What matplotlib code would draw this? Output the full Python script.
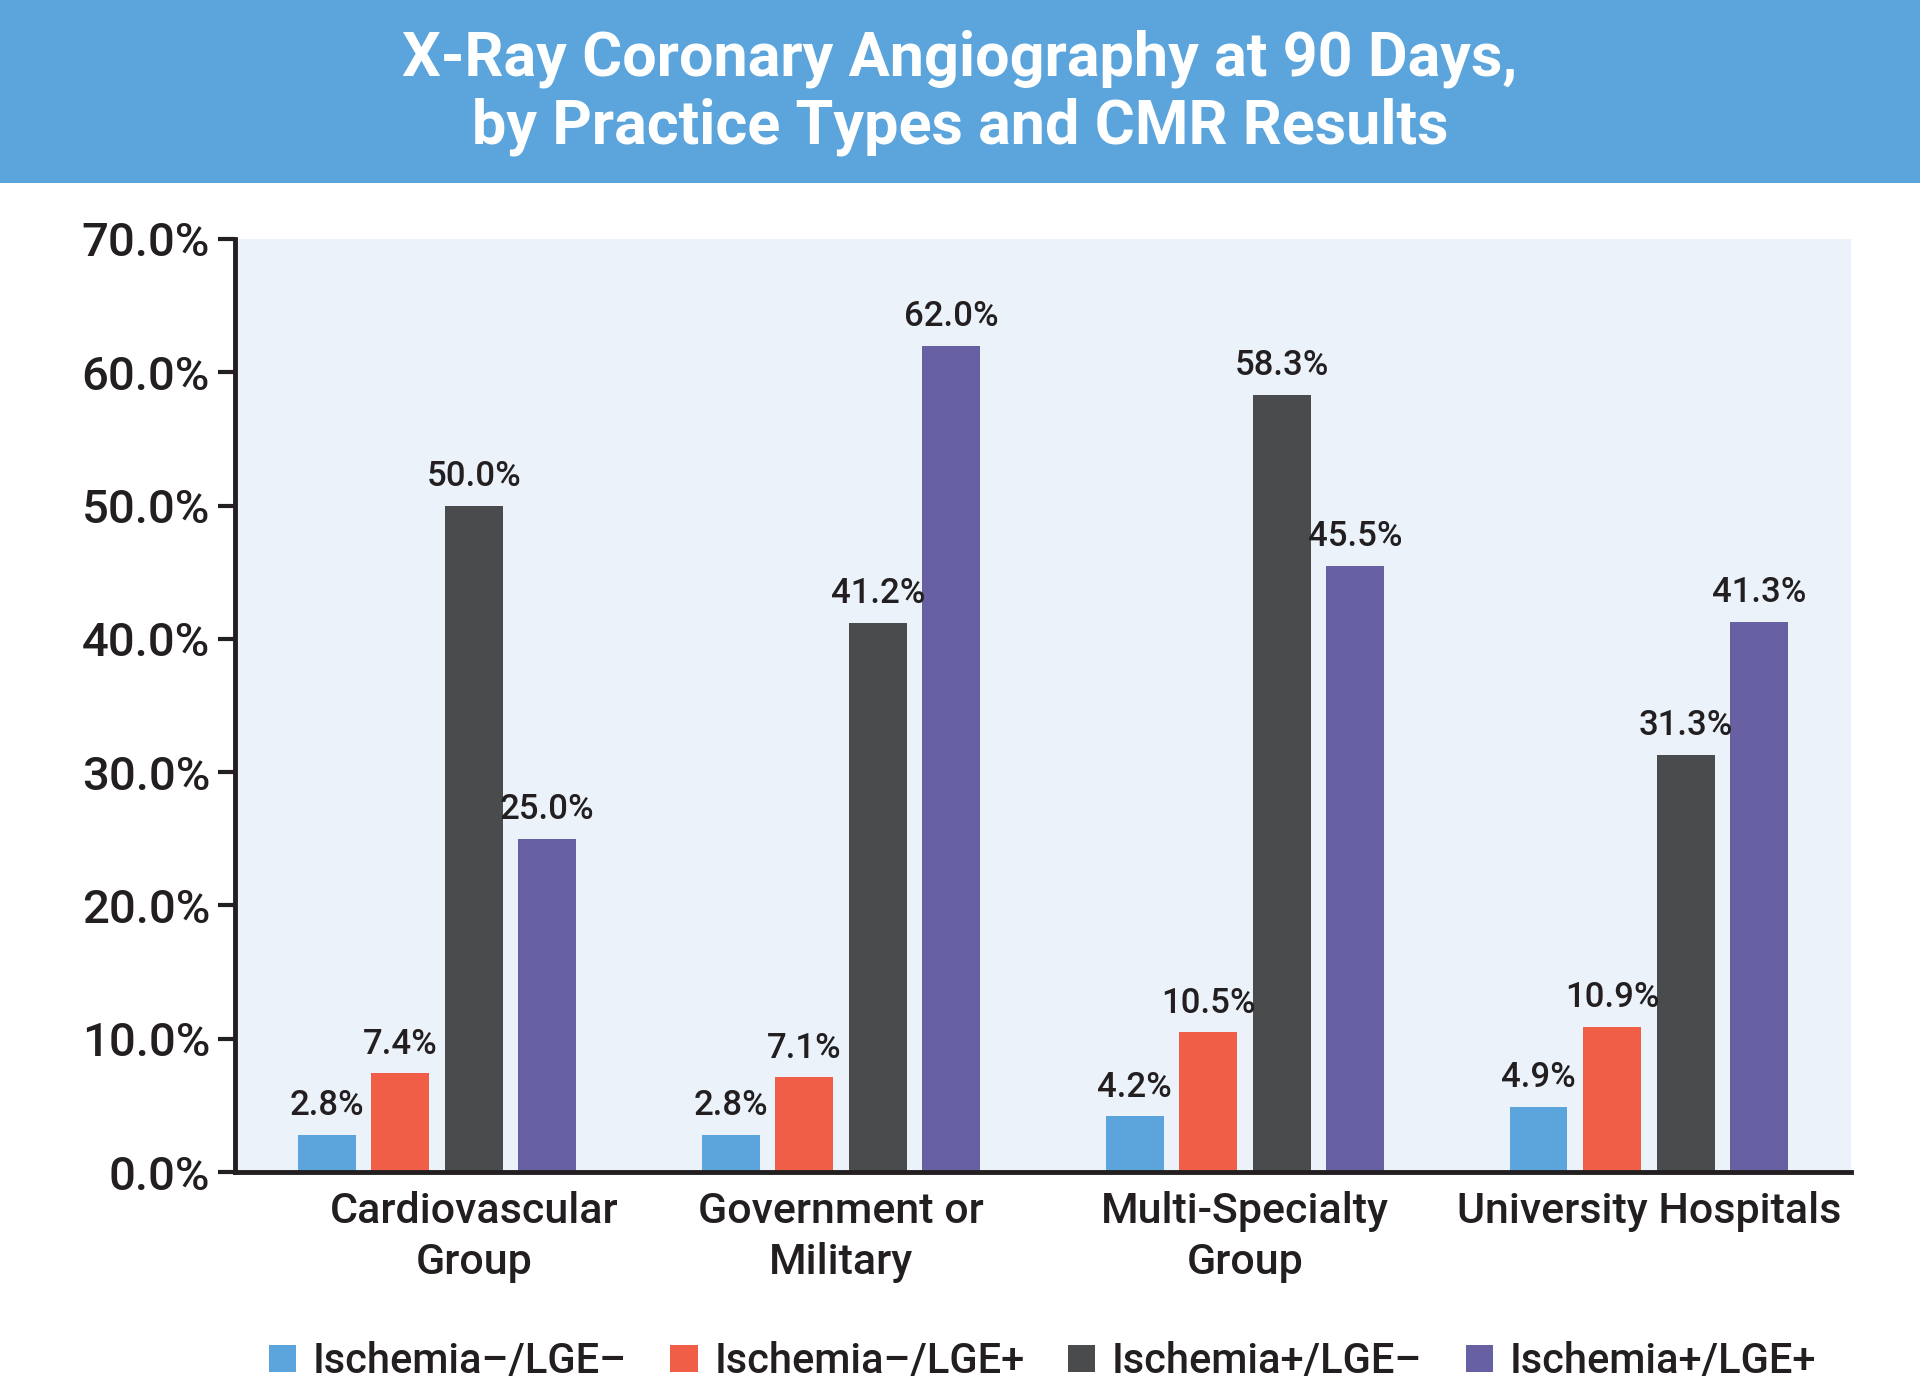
import matplotlib.pyplot as plt
from matplotlib.patches import Patch, Rectangle
from matplotlib.transforms import ScaledTranslation
import numpy as np

# data
categories = ["Cardiovascular\nGroup", "Government or\nMilitary",
              "Multi-Specialty\nGroup", "University Hospitals"]
series_names = ["Ischemia–/LGE–", "Ischemia–/LGE+", "Ischemia+/LGE–", "Ischemia+/LGE+"]
isch_neg_lge_neg = [2.8, 2.8, 4.2, 4.9]
isch_neg_lge_pos = [7.4, 7.1, 10.5, 10.9]
isch_pos_lge_neg = [50.0, 41.2, 58.3, 31.3]
isch_pos_lge_pos = [25.0, 62.0, 45.5, 41.3]
y_ticks = [0, 10, 20, 30, 40, 50, 60, 70]

colors = ["#5BA4DC", "#F05E48", "#4A4B4D", "#6761A3"]
text_col = "#231F20"

plt.rcParams["font.family"] = ["Roboto", "DejaVu Sans"]
plt.rcParams["font.weight"] = "medium"

fig = plt.figure(figsize=(19.2, 13.81), dpi=100)

# title band
fig.patches.append(Rectangle((0, 0.8675), 1, 0.1325, transform=fig.transFigure,
                             facecolor="#5BA5DC", edgecolor="none", zorder=0))
fig.text(0.5, 0.933, "X-Ray Coronary Angiography at 90 Days,\nby Practice Types and CMR Results",
         ha="center", va="center", color="white", fontsize=44, fontweight="bold",
         linespacing=1.2)

ax = fig.add_axes([0.1224, 0.1513, 0.8416, 0.6757])
ax.set_facecolor("#EBF2FA")

x = np.arange(len(categories))
step = 0.182
width = 0.143
all_series = [isch_neg_lge_neg, isch_neg_lge_pos, isch_pos_lge_neg, isch_pos_lge_pos]
for i, (vals, col) in enumerate(zip(all_series, colors)):
    pos = x + (i - 1.5) * step
    bars = ax.bar(pos, vals, width=width, color=col, zorder=2)
    for b, v in zip(bars, vals):
        ax.annotate(f"{v:.1f}%", (b.get_x() + b.get_width() / 2, v),
                    xytext=(0, 9), textcoords="offset points",
                    ha="center", va="bottom", fontsize=25, color=text_col)

ax.set_xlim(-0.5, 3.5)
ax.set_ylim(0, 70)
ax.set_yticks(y_ticks)
ax.set_yticklabels([f"{t:.1f}%" for t in y_ticks])
ax.set_xticks(x)
ax.set_xticklabels(categories, fontsize=31, color=text_col, linespacing=1.3)
ax.tick_params(axis="x", length=0, pad=14)
ax.tick_params(axis="y", labelsize=34, labelcolor=text_col, length=12, width=3,
               color=text_col, pad=6)

# first label sits a bit right of its group in the original
lbl = ax.get_xticklabels()[0]
lbl.set_transform(lbl.get_transform() + ScaledTranslation(0.37, 0, fig.dpi_scale_trans))

for s in ["top", "right"]:
    ax.spines[s].set_visible(False)
for s in ["left", "bottom"]:
    ax.spines[s].set_linewidth(3.5)
    ax.spines[s].set_color(text_col)

handles = [Patch(facecolor=c, edgecolor="none") for c in colors]
fig.legend(handles, series_names, loc="center", bbox_to_anchor=(0.543, 0.014),
           ncol=4, frameon=False, fontsize=30, handlelength=0.65, handleheight=0.65,
           handletextpad=0.4, columnspacing=1.05, labelcolor=text_col)

fig.savefig("out.png", dpi=100)
